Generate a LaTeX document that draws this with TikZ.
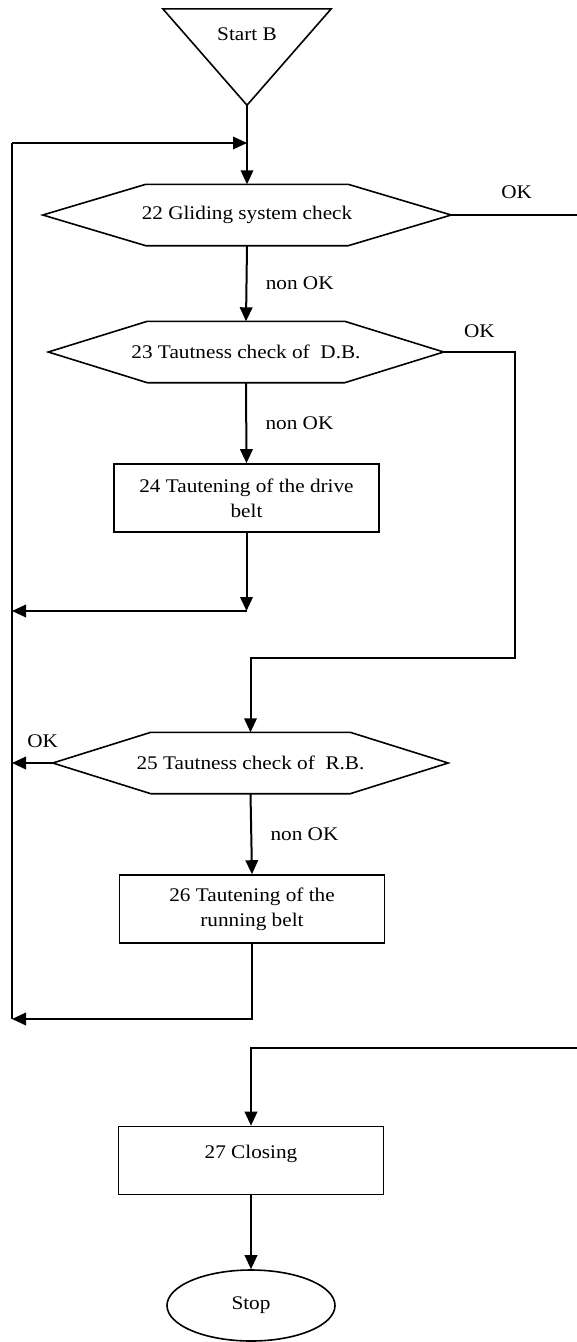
\documentclass[tikz,border=0pt]{standalone}
\usepackage{fontspec}
\setmainfont{Liberation Serif}[FakeStretch=1.1]
\usetikzlibrary{arrows.meta, shapes.geometric}

\begin{document}
\begin{tikzpicture}[x=1pt, y=-1pt,
  every node/.style={font=\fontsize{19.3}{25}\selectfont},
  line/.style={line width=1.6pt},
  flow/.style={line width=2pt, -{Triangle[length=14pt, width=12.5pt]}},
  startbox/.style={minimum width=168pt, minimum height=96pt, inner sep=0pt, text depth=46pt},
  check/.style={minimum width=#1, minimum height=61pt, inner sep=0pt},
  task/.style={draw, line width=1.6pt, minimum width=265pt, minimum height=68pt, align=center, inner sep=2pt},
  stopnode/.style={draw, ellipse, line width=1.6pt, minimum width=168pt, minimum height=71pt, inner sep=0pt},
  lab/.style={right=15pt}]
  \useasboundingbox (0,0) rectangle (577,1342);

  \node[startbox] (start) at (247,57) {Start B};
  \node[check=408pt] (c22) at (247,215) {22 Gliding system check};
  \node[check=395pt] (c23) at (246,352) {23 Tautness check of \ D.B.};
  \node[task] (b24) at (246.5,498) {24 Tautening of the drive\\belt};
  \node[check=395pt] (c25) at (250.5,763) {25 Tautness check of \ R.B.};
  \node[task] (b26) at (252,909) {26 Tautening of the\\running belt};
  \node[task, text depth=17pt] (b27) at (251,1160.5) {27 Closing};
  \node[stopnode] (stop) at (251,1305.5) {Stop};

  % outlines of start and checks
  \draw[line] (start.north west) -- (start.north east) -- (start.south) -- cycle;
  \foreach \n/\c in {c22/103pt, c23/99pt, c25/98pt}
    \draw[line] (\n.west) -- ([xshift=\c]\n.north west) -- ([xshift=-\c]\n.north east)
      -- (\n.east) -- ([xshift=-\c]\n.south east) -- ([xshift=\c]\n.south west) -- cycle;

  \coordinate (loopT) at (12,143);
  \coordinate (loopB) at (12,1019);
  \coordinate (entry) at (247,143);
  \coordinate (okA) at (577,215);
  \coordinate (okB) at (515,658);
  \coordinate (j24) at (246.5,611);
  \coordinate (back24) at (12,611);
  \coordinate (back25) at (12,763);
  \coordinate (okC) at (577,1048);

  \draw[flow] (start.south) -- (c22.north);
  \draw[line] (loopB) -- (loopT);
  \draw[flow] (loopT) -- (entry);
  \draw[line] (c22.east) -- node[pos=0.52, above=12pt]{OK} (okA);
  \draw[flow] (c22.south) -- node[lab]{non OK} (c23.north);
  \draw[flow] (c23.east) -| node[pos=0.25, above=10pt]{OK} (okB) -| (c25.north);
  \draw[flow] (c23.south) -- node[lab]{non OK} (b24.north);
  \draw[flow] (b24.south) -- (j24);
  \draw[flow] (j24) -- (back24);
  \draw[flow] (c25.west) -- node[pos=0.25, above=11pt]{OK} (back25);
  \draw[flow] (c25.south) -- node[lab]{non OK} (b26.north);
  \draw[flow] (b26.south) |- (loopB);
  \draw[flow] (okC) -| (b27.north);
  \draw[flow] (b27.south) -- (stop.north);
\end{tikzpicture}
\end{document}
